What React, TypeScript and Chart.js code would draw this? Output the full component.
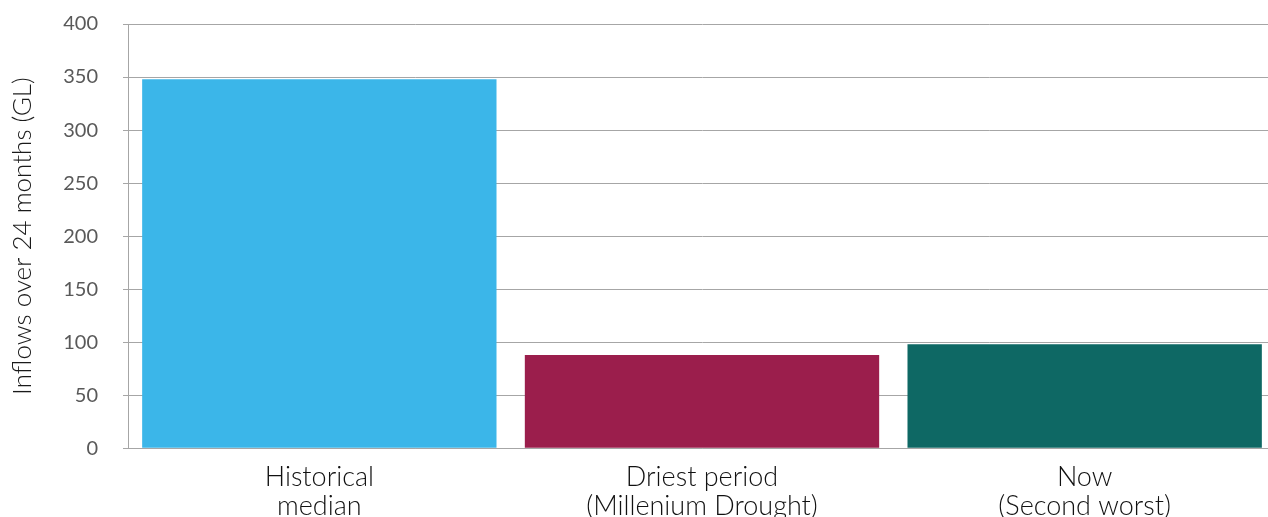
import React, { useEffect, useRef } from "react";
import { Chart, registerables } from "chart.js";

Chart.register(...registerables);

const categories: string[][] = [
  ["Historical", "median"],
  ["Driest period", "(Millenium Drought)"],
  ["Now", "(Second worst)"],
];
const inflows: number[] = [348, 88, 98];
const barColors: string[] = ["#3BB6E9", "#9B1E4C", "#0E6864"];
const yTitle = "Inflows over 24 months (GL)";
const yMin = 0;
const yMax = 400;
const yStep = 50;

export default function App() {
  const ref = useRef<HTMLCanvasElement | null>(null);

  useEffect(() => {
    if (!ref.current) return;
    const chart = new Chart(ref.current, {
      type: "bar",
      data: {
        labels: categories,
        datasets: [
          {
            data: inflows,
            backgroundColor: barColors,
            borderWidth: 0,
            barPercentage: 0.926,
            categoryPercentage: 1,
          },
        ],
      },
      options: {
        animation: false,
        responsive: false,
        layout: { padding: { top: 0, left: 0, right: 0, bottom: 0 } },
        plugins: {
          legend: { display: false },
          tooltip: { enabled: false },
        },
        scales: {
          x: {
            grid: { display: false, drawTicks: false },
            border: { display: true, color: "#A6A6A6", width: 1 },
            ticks: {
              color: "#111111",
              font: { family: "Lato", size: 27, weight: "300", lineHeight: 1.05 },
              padding: 15,
              maxRotation: 0,
              autoSkip: false,
            },
          },
          y: {
            min: yMin,
            max: yMax,
            afterFit: (scale: any) => {
              scale.width = 128;
            },
            grid: { color: "#A6A6A6", tickLength: 5, lineWidth: 1 },
            border: { display: true, color: "#A6A6A6", width: 1 },
            ticks: {
              stepSize: yStep,
              color: "#595959",
              font: { family: "Lato", size: 20 },
              padding: 25,
            },
            title: {
              display: true,
              text: yTitle,
              color: "#1a1a1a",
              font: { family: "Lato", size: 26, weight: "300", lineHeight: 1.2 },
              padding: { top: 7, bottom: 0 },
            },
          },
        },
      },
    });
    return () => chart.destroy();
  }, []);

  return (
    <div
      style={{
        position: "fixed",
        left: 0,
        top: "-13px",
        width: "1276px",
        height: "548px",
        background: "#ffffff",
      }}
    >
      <canvas ref={ref} width={1276} height={548} style={{ width: "1276px", height: "548px", display: "block" }} />
    </div>
  );
}
